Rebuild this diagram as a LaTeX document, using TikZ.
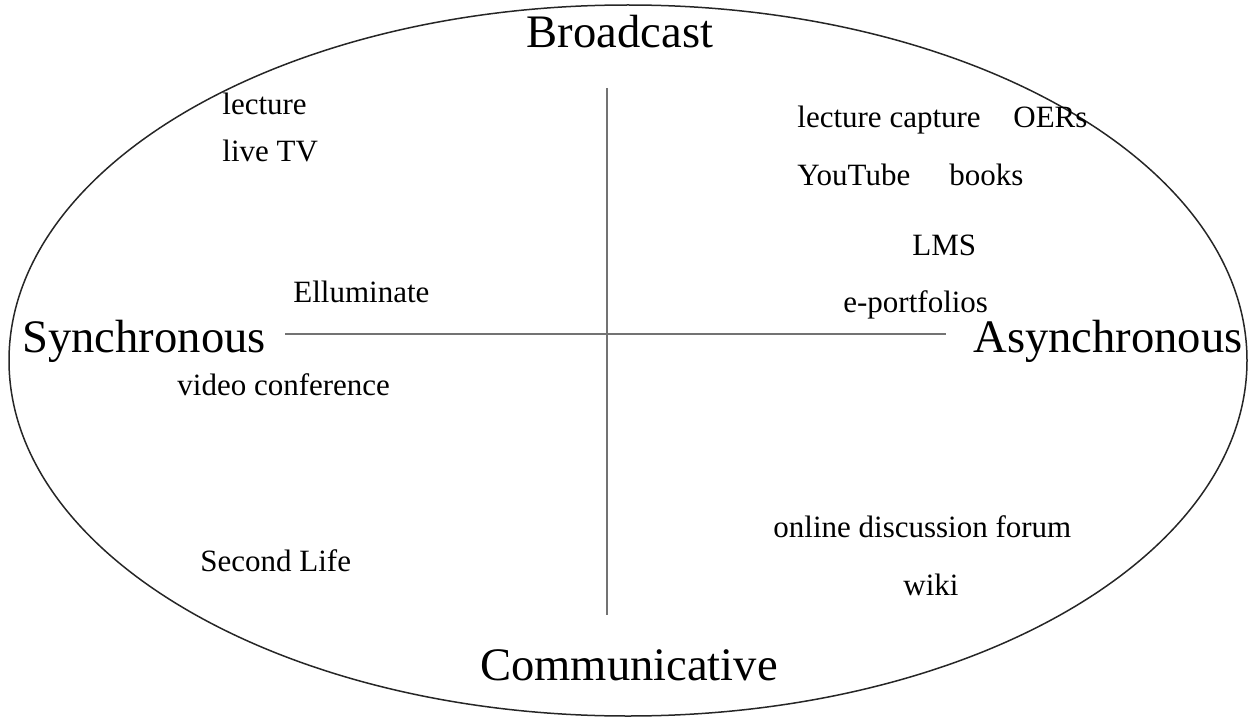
\documentclass[tikz,border=0pt]{standalone}
\usepackage{fontspec}
\setmainfont{Liberation Serif}
\usetikzlibrary{positioning}
\tikzset{
    contorno/.style={draw=black!85, line width=0.75pt},
    eixo/.style={draw=black!55, line width=1pt},
    polo/.style={inner sep=0pt, anchor=base, font=\fontsize{23.3}{27}\selectfont},
    ferramenta/.style={inner sep=0pt, anchor=base west, font=\fontsize{15.5}{18}\selectfont}
}

\begin{document}
\begin{tikzpicture}[x=0.5pt, y=-0.5pt]
    \useasboundingbox (0,0) rectangle (1248,717);
    \draw[contorno] (628,360.5) ellipse [x radius=309.5pt, y radius=177.75pt];

    % eixos
    \coordinate (topo) at (607,88);
    \coordinate (base) at (607,615);
    \coordinate (esq) at (285,334);
    \coordinate (dir) at (946,334);
    \draw[eixo] (topo) -- (base);
    \draw[eixo] (esq) -- (dir);

    % polos
    \node[polo] (broadcast) at (620,48) {Broadcast};
    \node[polo] (comunic) at (629,680) {Communicative};
    \node[polo, anchor=base west] (sincrono) at (22,352) {Synchronous};
    \node[polo, anchor=base west] (assincrono) at (973,352) {Asynchronous};

    % ferramentas
    \node[ferramenta] (lecture) at (222,115) {lecture};
    \node[ferramenta] (livetv) at (222,162) {live TV};
    \node[ferramenta] (elluminate) at (293,302) {Elluminate};
    \node[ferramenta] (videoconf) at (177,395) {video conference};
    \node[ferramenta] (secondlife) at (200,571) {Second Life};
    \node[ferramenta] (capture) at (797,127) {lecture capture};
    \node[ferramenta] (oers) at (1013,127) {OERs};
    \node[ferramenta] (youtube) at (797,185) {YouTube};
    \node[ferramenta] (books) at (949,185) {books};
    \node[ferramenta] (lms) at (912,255) {LMS};
    \node[ferramenta] (portfolios) at (843,312) {e-portfolios};
    \node[ferramenta] (forum) at (773,537) {online discussion forum};
    \node[ferramenta] (wiki) at (903,595) {wiki};
\end{tikzpicture}
\end{document}
